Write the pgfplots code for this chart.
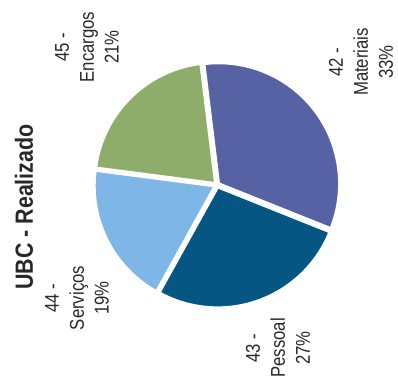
\documentclass[border=0pt]{standalone}
\usepackage{pgfplots}
\pgfplotsset{compat=1.18}
\usepackage{fontspec}
\setmainfont{Liberation Sans}
\newfontfamily\cond[FakeStretch=0.84]{Liberation Sans}
\newfontfamily\condt[FakeStretch=0.86]{Liberation Sans}
\definecolor{cMat}{RGB}{86,98,163}
\definecolor{cPes}{RGB}{6,86,132}
\definecolor{cSer}{RGB}{126,182,232}
\definecolor{cEnc}{RGB}{143,173,106}
\definecolor{ctxt}{RGB}{40,40,40}
\begin{document}
\begin{tikzpicture}
\begin{axis}[
  at={(0,0)}, anchor=south west,
  scale only axis, width=398bp, height=381bp,
  xmin=0, xmax=398, ymin=0, ymax=381,
  hide axis, clip=false,
]
\addplot[draw=none] coordinates {(0,0) (398,381)};
% Materiais 33%
\addplot[fill=cMat, draw=white, line width=3bp, domain={97-3.6*33}:{97}, samples=90, variable=\t]
  ({217+2*cos(37.6)+121*cos(t)}, {196+2*sin(37.6)+121*sin(t)}) -- (axis cs:{217+2*cos(37.6)},{196+2*sin(37.6)}) -- cycle;
% Pessoal 27%
\addplot[fill=cPes, draw=white, line width=3bp, domain={97-3.6*(33+27)}:{97-3.6*33}, samples=90, variable=\t]
  ({217+2*cos(-70.4)+121*cos(t)}, {196+2*sin(-70.4)+121*sin(t)}) -- (axis cs:{217+2*cos(-70.4)},{196+2*sin(-70.4)}) -- cycle;
% Servicos 19%
\addplot[fill=cSer, draw=white, line width=3bp, domain={97-3.6*(33+27+19)}:{97-3.6*(33+27)}, samples=90, variable=\t]
  ({217+2*cos(-153.2)+121*cos(t)}, {196+2*sin(-153.2)+121*sin(t)}) -- (axis cs:{217+2*cos(-153.2)},{196+2*sin(-153.2)}) -- cycle;
% Encargos 21%
\addplot[fill=cEnc, draw=white, line width=3bp, domain={97-3.6*(33+27+19+21)}:{97-3.6*(33+27+19)}, samples=90, variable=\t]
  ({217+2*cos(134.8)+121*cos(t)}, {196+2*sin(134.8)+121*sin(t)}) -- (axis cs:{217+2*cos(134.8)},{196+2*sin(134.8)}) -- cycle;

\node[rotate=90, align=center, text=ctxt, font=\cond\fontsize{20}{25}\selectfont] at (axis cs:87,334) {45 -\\Encargos\\21\%};
\node[rotate=90, align=center, text=ctxt, font=\cond\fontsize{20}{25}\selectfont] at (axis cs:361,319) {42 -\\Materiais\\33\%};
\node[rotate=90, align=center, text=ctxt, font=\cond\fontsize{20}{25}\selectfont] at (axis cs:77,83) {44 -\\Serviços\\19\%};
\node[rotate=90, align=center, text=ctxt, font=\cond\fontsize{20}{25}\selectfont] at (axis cs:278,33) {43 -\\Pessoal\\27\%};
\node[rotate=90, text=ctxt, font=\condt\fontsize{25}{30}\selectfont\bfseries] at (axis cs:24,174) {UBC - Realizado};
\end{axis}
\end{tikzpicture}
\end{document}
